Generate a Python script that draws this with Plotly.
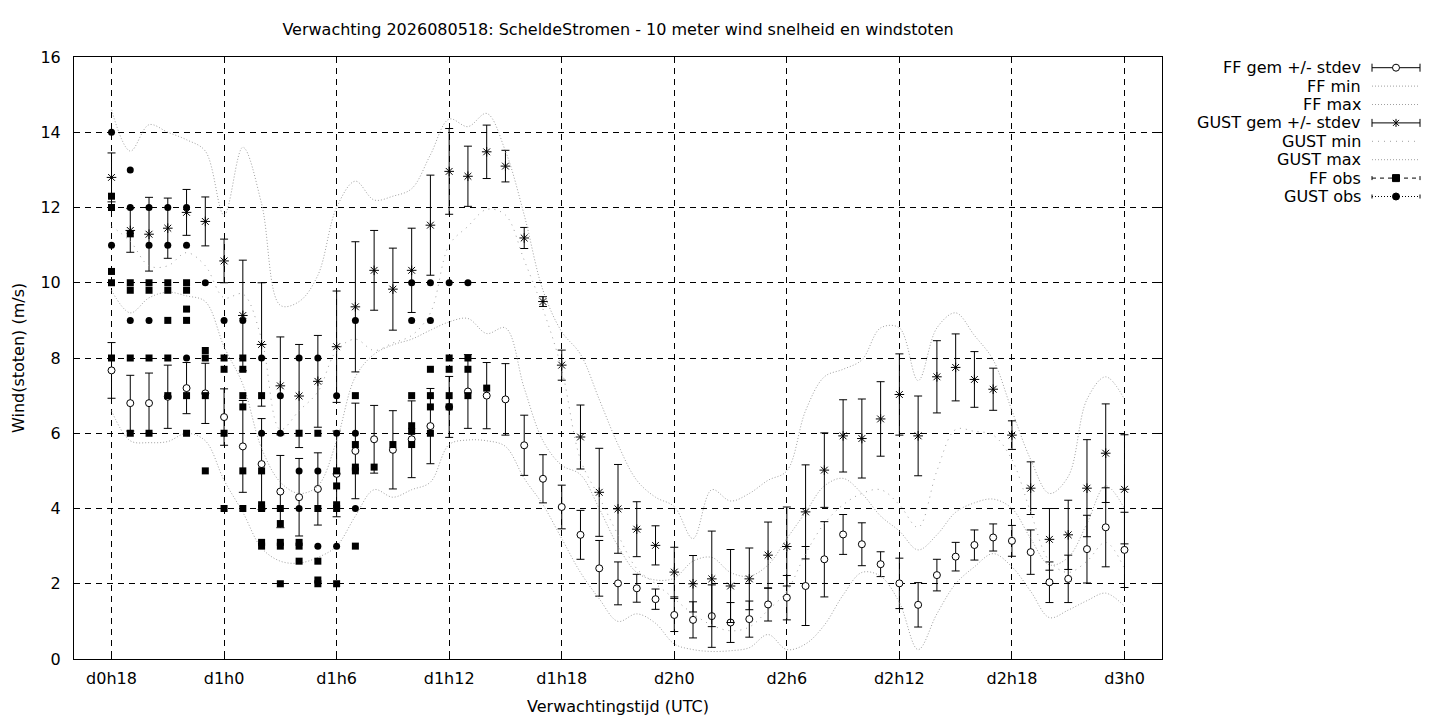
import plotly.graph_objects as go

# forecast hour (hours after d0h0)
hours = [18, 19, 20, 21, 22, 23, 24, 25, 26, 27,
         28, 29, 30, 31, 32, 33, 34, 35, 36, 37,
         38, 39, 40, 41, 42, 43, 44, 45, 46, 47,
         48, 49, 50, 51, 52, 53, 54, 55, 56, 57,
         58, 59, 60, 61, 62, 63, 64, 65, 66, 67,
         68, 69, 70, 71, 72]

# 10 m wind speed, ensemble mean / stdev / min / max (m/s)
ff_mean = [7.67, 6.8, 6.8, 6.97, 7.2, 7.06, 6.43, 5.65, 5.18, 4.45,
           4.3, 4.52, 4.92, 5.53, 5.84, 5.56, 5.84, 6.19, 6.7, 7.11,
           7.0, 6.9, 5.68, 4.79, 4.04, 3.3, 2.41, 2.01, 1.88, 1.59,
           1.17, 1.04, 1.14, 0.97, 1.06, 1.45, 1.63, 1.94, 2.65, 3.31,
           3.05, 2.52, 2.01, 1.44, 2.23, 2.72, 3.03, 3.23, 3.14, 2.84,
           2.04, 2.13, 2.92, 3.5, 2.9]
ff_sd = [0.74, 0.74, 0.8, 0.84, 0.68, 0.8, 0.75, 1.22, 1.21, 0.96,
         1.03, 0.96, 1.14, 1.27, 0.9, 1.04, 1.02, 1.0, 0.81, 0.98,
         0.88, 0.95, 0.8, 0.64, 0.58, 0.65, 0.74, 0.57, 0.37, 0.27,
         0.44, 0.48, 0.83, 0.53, 0.48, 0.44, 0.59, 1.05, 1.0, 0.53,
         0.57, 0.33, 0.67, 0.59, 0.42, 0.38, 0.4, 0.36, 0.41, 0.59,
         0.54, 0.63, 0.9, 1.05, 1.0]
ff_min = [6.6, 5.8, 5.75, 5.78, 6.0, 5.8, 4.75, 3.9, 2.95, 2.6,
          2.55, 2.7, 3.0, 3.8, 4.5, 4.3, 4.5, 4.7, 5.7, 5.82,
          5.8, 5.65, 4.8, 4.1, 3.2, 2.3, 1.6, 1.0, 1.2, 0.95,
          0.4, 0.25, 0.2, 0.22, 0.3, 0.65, 0.25, 0.4, 0.9, 1.7,
          2.3, 2.2, 1.5, 0.25, 1.2, 2.0, 2.45, 2.8, 2.45, 1.8,
          1.1, 1.3, 1.55, 1.75, 1.4]
ff_max = [9.8, 9.2, 9.6, 9.75, 9.65, 9.5, 8.3, 7.3, 5.6, 4.7,
          4.4, 4.6, 5.8, 7.5, 8.1, 8.35, 8.5, 8.74, 8.96, 9.05,
          8.65, 8.8, 7.2, 5.8, 5.15, 4.9, 4.0, 3.0, 2.3, 2.1,
          2.15, 2.6, 2.7, 2.3, 2.2, 2.5, 3.2, 3.9, 4.6, 4.8,
          4.4, 3.8, 3.4, 2.9, 3.3, 3.9, 4.15, 4.25, 4.0, 3.2,
          2.5, 2.7, 3.6, 4.6, 4.0]

# wind gusts, ensemble mean / stdev / min / max (m/s)
gust_mean = [12.8, 11.39, 11.29, 11.45, 11.87, 11.63, 10.58, 9.13, 8.36, 7.26,
             6.99, 7.38, 8.3, 9.36, 10.33, 9.83, 10.33, 11.53, 12.96, 12.83,
             13.48, 13.1, 11.19, 9.5, 7.81, 5.9, 4.43, 3.99, 3.45, 3.02,
             2.31, 2.0, 2.13, 1.94, 2.13, 2.76, 2.99, 3.91, 5.02, 5.93,
             5.86, 6.38, 7.03, 5.93, 7.5, 7.75, 7.43, 7.17, 5.95, 4.54,
             3.18, 3.3, 4.54, 5.47, 4.51]
gust_sd = [0.65, 0.58, 0.98, 0.8, 0.61, 0.65, 0.58, 1.47, 1.64, 1.3,
           1.37, 1.22, 1.48, 1.73, 1.06, 1.09, 1.12, 1.33, 1.14, 0.8,
           0.71, 0.42, 0.28, 0.13, 0.4, 0.85, 1.17, 1.18, 0.73, 0.52,
           0.66, 0.75, 1.27, 0.97, 0.82, 0.88, 1.05, 1.25, 0.99, 0.96,
           1.05, 0.99, 1.08, 1.06, 0.96, 0.89, 0.74, 0.56, 0.38, 0.7,
           0.82, 0.92, 1.29, 1.31, 1.45]
gust_min = [11.5, 11.1, 10.45, 10.45, 10.8, 10.45, 9.6, 9.7, 8.5, 6.1,
            6.6, 7.1, 8.2, 8.5, 8.2, 8.4, 8.6, 9.2, 11.0, 11.5,
            11.95, 11.8, 10.6, 9.3, 7.7, 5.3, 4.3, 3.3, 2.4, 2.0,
            1.6, 1.2, 0.9, 0.75, 0.85, 1.3, 1.8, 2.8, 3.6, 4.1,
            4.4, 4.5, 4.1, 3.5, 5.0, 6.1, 6.05, 5.95, 5.3, 3.9,
            2.6, 2.3, 2.6, 3.1, 2.4]
gust_max = [14.6, 13.5, 14.2, 14.0, 13.8, 13.5, 11.8, 13.6, 12.1, 9.4,
            9.5, 10.2, 12.0, 12.7, 12.2, 12.3, 12.5, 13.4, 14.35, 14.15,
            14.5, 13.5, 11.8, 9.8, 8.7, 8.1, 6.9, 5.7, 4.75, 4.3,
            4.05, 3.2, 4.5, 4.2, 4.4, 4.75, 5.0, 6.6, 7.5, 7.7,
            7.95, 8.8, 8.8, 7.4, 8.8, 9.2, 8.6, 7.95, 6.6, 5.3,
            4.4, 4.85, 6.9, 7.5, 6.9]

# station observations per hour
ff_obs = {
    18: [12.3, 12.0, 10.3, 10.0, 8.0],
    19: [11.3, 10.0, 9.8, 8.0, 6.0],
    20: [10.0, 9.8, 8.0, 6.0],
    21: [10.0, 9.8, 9.0, 8.0, 7.0],
    22: [10.0, 9.8, 9.3, 9.0, 7.0, 6.0],
    23: [8.2, 8.0, 7.0, 5.0],
    24: [8.0, 7.7, 6.0, 4.0],
    25: [8.0, 7.7, 7.0, 6.7, 5.0, 4.0],
    26: [7.0, 5.0, 4.1, 4.0, 3.1, 3.0],
    27: [4.0, 3.6, 3.1, 3.0, 2.0],
    28: [6.0, 3.1, 3.0, 2.6],
    29: [6.0, 4.0, 2.6, 2.1, 2.0],
    30: [5.0, 4.6, 4.1, 4.0, 2.0],
    31: [7.0, 5.7, 5.1, 5.0, 3.0],
    32: [5.1],
    33: [5.7],
    34: [7.0, 6.2, 6.05, 5.7],
    35: [7.7, 7.0, 6.7, 6.0],
    36: [8.0, 7.7, 7.0, 6.7],
    37: [8.0, 7.7, 7.0],
    38: [7.2],
}
gust_obs = {
    18: [14.0, 12.0, 11.0],
    19: [13.0, 12.0, 9.0],
    20: [12.0, 11.0, 9.0],
    21: [12.0, 11.0],
    22: [12.0, 11.0, 8.0],
    23: [10.0],
    24: [9.0],
    25: [9.0],
    26: [8.0, 6.0],
    27: [7.0, 6.0],
    28: [8.0, 5.0, 4.0],
    29: [8.0, 5.0, 3.0],
    30: [7.0, 6.0, 3.0],
    31: [9.0, 6.0, 4.0],
    34: [10.0, 9.0],
    35: [10.0, 9.0],
    36: [10.0],
    37: [10.0],
}

tick_hours = [18, 24, 30, 36, 42, 48, 54, 60, 66, 72]
tick_text = ['d0h18', 'd1h0', 'd1h6', 'd1h12', 'd1h18',
             'd2h0', 'd2h6', 'd2h12', 'd2h18', 'd3h0']
y_ticks = [0, 2, 4, 6, 8, 10, 12, 14, 16]

# geometry in screenshot pixels; the page itself sits 8px in from the corner
W, H = 1440, 720
OFF = 8
L, R, T, B = 74, 1162, 57, 659
FONT = 'DejaVu Sans'
FS = 16
GRAY = '#a0a0a0'


def px_x(px):
    # screenshot pixel -> paper x
    return (px - L) / (R - L)


def px_y(py):
    # screenshot pixel -> paper y
    return (B - py) / (B - T)


def flatten(obs):
    xs, ys = [], []
    for h, vals in obs.items():
        for v in vals:
            xs.append(h)
            ys.append(v)
    return xs, ys


ff_ox, ff_oy = flatten(ff_obs)
gu_ox, gu_oy = flatten(gust_obs)

fig = go.Figure()

# FF mean +/- stdev
fig.add_trace(go.Scatter(
    x=hours, y=ff_mean, mode='markers', name='FF gem +/- stdev',
    marker=dict(symbol='circle', size=7, color='white',
                line=dict(color='black', width=1)),
    error_y=dict(type='data', array=ff_sd, color='black',
                 thickness=1, width=4)))

fig.add_trace(go.Scatter(
    x=hours, y=ff_min, mode='lines', name='FF min',
    line=dict(color=GRAY, width=1, dash='1px,2px',
              shape='spline', smoothing=1.0)))
fig.add_trace(go.Scatter(
    x=hours, y=ff_max, mode='lines', name='FF max',
    line=dict(color=GRAY, width=1, dash='1px,2px',
              shape='spline', smoothing=1.0)))

# GUST mean +/- stdev
fig.add_trace(go.Scatter(
    x=hours, y=gust_mean, mode='markers', name='GUST gem +/- stdev',
    marker=dict(symbol='asterisk-open', size=8, color='black',
                line=dict(color='black', width=1)),
    error_y=dict(type='data', array=gust_sd, color='black',
                 thickness=1, width=4)))

fig.add_trace(go.Scatter(
    x=hours, y=gust_min, mode='lines', name='GUST min',
    line=dict(color=GRAY, width=1, dash='1px,5px',
              shape='spline', smoothing=1.0)))
fig.add_trace(go.Scatter(
    x=hours, y=gust_max, mode='lines', name='GUST max',
    line=dict(color=GRAY, width=1, dash='1px,2px',
              shape='spline', smoothing=1.0)))

# observations
fig.add_trace(go.Scatter(
    x=ff_ox, y=ff_oy, mode='markers', name='FF obs',
    marker=dict(symbol='square', size=7, color='black')))
fig.add_trace(go.Scatter(
    x=gu_ox, y=gu_oy, mode='markers', name='GUST obs',
    marker=dict(symbol='circle', size=7, color='black')))

# ---- gnuplot style key: right-aligned text, sample to the right of it
key_rows = [
    # text, line colour, dash, marker, cap half-height
    ('FF gem +/- stdev', 'black', 'solid', 'open_circle', 4),
    ('FF min', GRAY, '1px,2px', None, 0),
    ('FF max', GRAY, '1px,2px', None, 0),
    ('GUST gem +/- stdev', 'black', 'solid', 'asterisk', 4),
    ('GUST min', GRAY, '1px,5px', None, 0),
    ('GUST max', GRAY, '1px,2px', None, 0),
    ('FF obs', 'black', '4px,4px', 'square', 2),
    ('GUST obs', 'black', '1px,2px', 'dot', 2),
]
key_x0, key_x1, key_text_x = 1372, 1420, 1363
key_y0, key_dy = 67.7, 18.4
key_xm = (key_x0 + key_x1) / 2


def seg(xa, ya, xb, yb, color='black', dash='solid'):
    fig.add_shape(type='line', xref='paper', yref='paper',
                  x0=px_x(xa), x1=px_x(xb), y0=px_y(ya), y1=px_y(yb),
                  line=dict(color=color, width=1, dash=dash))


for i, (label, lc, dash, mark, cap) in enumerate(key_rows):
    yy = key_y0 + i * key_dy
    seg(key_x0, yy, key_x1, yy, lc, dash)
    if cap:
        for cx in (key_x0, key_x1):
            seg(cx, yy - cap, cx, yy + cap)
    r = 3.5
    if mark in ('open_circle', 'dot'):
        fig.add_shape(type='circle', xref='paper', yref='paper',
                      x0=px_x(key_xm - r), x1=px_x(key_xm + r),
                      y0=px_y(yy + r), y1=px_y(yy - r),
                      fillcolor='white' if mark == 'open_circle' else 'black',
                      line=dict(color='black', width=1))
    elif mark == 'square':
        fig.add_shape(type='rect', xref='paper', yref='paper',
                      x0=px_x(key_xm - r), x1=px_x(key_xm + r),
                      y0=px_y(yy + r), y1=px_y(yy - r),
                      fillcolor='black', line=dict(color='black', width=1))
    elif mark == 'asterisk':
        fig.add_shape(type='rect', xref='paper', yref='paper',
                      x0=px_x(key_xm - 4), x1=px_x(key_xm + 4),
                      y0=px_y(yy + 4), y1=px_y(yy - 4),
                      fillcolor='white', line=dict(width=0))
        seg(key_xm - 4, yy, key_xm + 4, yy)
        seg(key_xm, yy - 4, key_xm, yy + 4)
        seg(key_xm - 3, yy - 3, key_xm + 3, yy + 3)
        seg(key_xm - 3, yy + 3, key_xm + 3, yy - 3)
    fig.add_annotation(text=label, xref='paper', yref='paper',
                       x=px_x(key_text_x), y=px_y(yy),
                       xanchor='right', yanchor='middle', showarrow=False,
                       font=dict(family=FONT, size=FS, color='black'))

# axis titles
fig.add_annotation(text='Verwachtingstijd (UTC)', xref='paper', yref='paper',
                   x=0.5, y=px_y(706), showarrow=False,
                   xanchor='center', yanchor='middle',
                   font=dict(family=FONT, size=FS, color='black'))
fig.add_annotation(text='Wind(stoten) (m/s)', xref='paper', yref='paper',
                   x=px_x(18), y=0.5, showarrow=False,
                   textangle=-90, xanchor='center', yanchor='middle',
                   font=dict(family=FONT, size=FS, color='black'))

axis_common = dict(
    showline=True, linecolor='black', linewidth=1, mirror='ticks',
    ticks='inside', ticklen=5, tickcolor='black', tickwidth=1,
    showgrid=True, gridcolor='black', gridwidth=1, griddash='6px,5px',
    zeroline=False, tickfont=dict(family=FONT, size=FS, color='black'),
    fixedrange=True)

fig.update_layout(
    width=W, height=H, autosize=False,
    margin=dict(l=L - OFF, r=W - R + OFF, t=T - OFF, b=H - B + OFF, pad=0),
    paper_bgcolor='white', plot_bgcolor='white',
    showlegend=False,
    title=dict(text='Verwachting 2026080518: ScheldeStromen - 10 meter wind snelheid en windstoten',
               x=((L + R) / 2 - OFF) / W, xanchor='center', xref='container',
               y=1 - (29 - OFF) / H, yanchor='middle', yref='container',
               font=dict(family=FONT, size=FS, color='black')),
    xaxis=dict(range=[16, 74], tickmode='array', tickvals=tick_hours,
               ticktext=tick_text, ticklabelstandoff=5, **axis_common),
    yaxis=dict(range=[0, 16], tickmode='array', tickvals=y_ticks,
               ticklabelstandoff=9, **axis_common),
)

fig.write_html('out.html')
